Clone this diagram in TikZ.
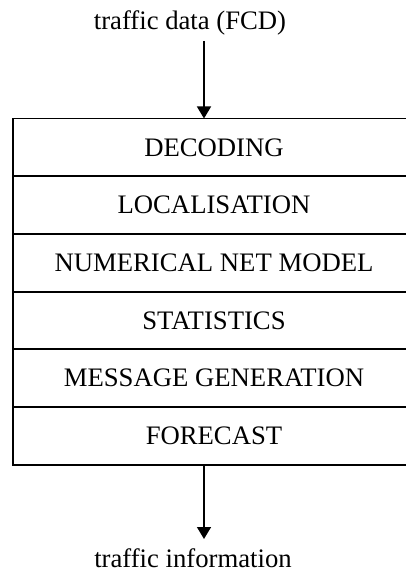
\documentclass[tikz,border=0pt]{standalone}
\usepackage{fontspec}
\setmainfont{Liberation Serif}
\usetikzlibrary{arrows.meta}
\begin{document}
\begin{tikzpicture}[x=1pt,y=-1pt,
  rowbox/.style={draw, line width=1.8pt, minimum width=402pt, minimum height=57.7pt, inner sep=0pt, outer sep=0pt, anchor=north, font=\fontsize{26.7}{32}\selectfont},
  lbl/.style={anchor=base, inner sep=0pt, font=\fontsize{26.7}{32}\selectfont},
  arr/.style={line width=1.5pt, -{Triangle[width=14pt,length=12pt]}}]
\useasboundingbox (0,0) rectangle (406,572);
\node[lbl] (src) at (190,30) {traffic data (FCD)};
\node[rowbox] (r1) at (214,118.5) {DECODING};
\node[rowbox] (r2) at (r1.south) {LOCALISATION};
\node[rowbox] (r3) at (r2.south) {NUMERICAL NET MODEL};
\node[rowbox] (r4) at (r3.south) {STATISTICS};
\node[rowbox] (r5) at (r4.south) {MESSAGE GENERATION};
\node[rowbox] (r6) at (r5.south) {FORECAST};
\node[lbl] (dst) at (193,567) {traffic information};
\coordinate (in) at (204,41);
\coordinate (out) at (204,539);
\draw[arr] (in) -- (in |- r1.north);
\draw[arr] (out |- r6.south) -- (out);
\end{tikzpicture}
\end{document}
